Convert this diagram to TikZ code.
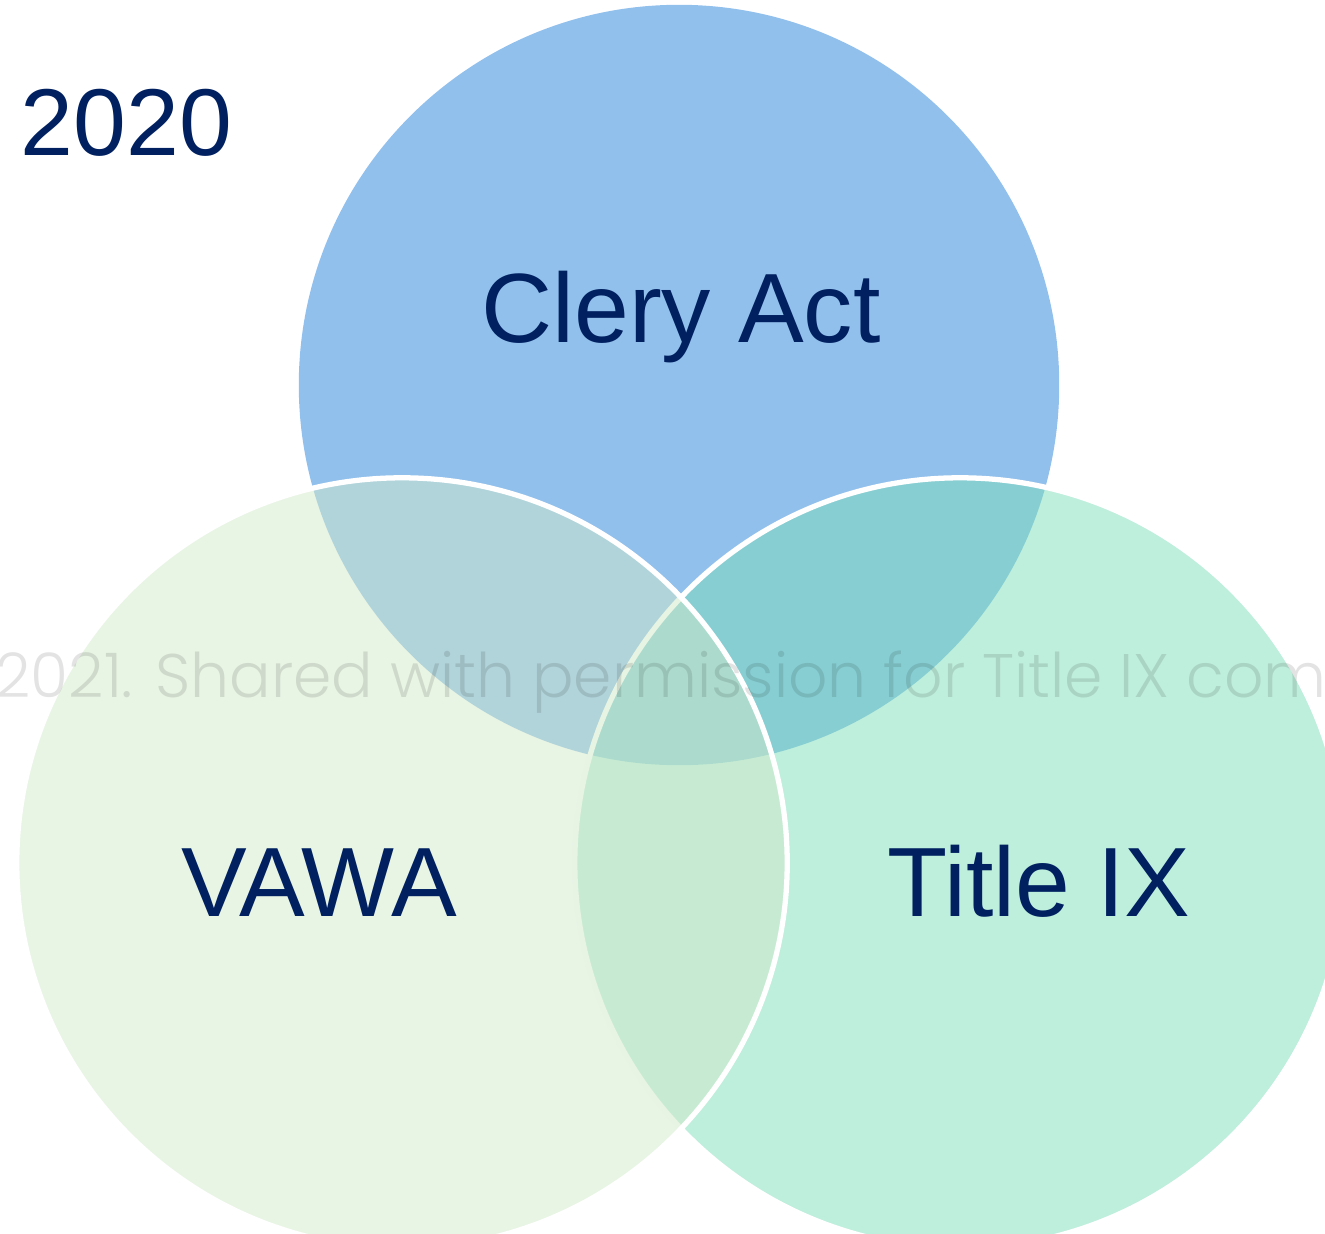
\documentclass[tikz,border=0pt]{standalone}
\usepackage{fontspec}
\setmainfont{Liberation Sans}
\IfFontExistsTF{Poppins Light}{\newfontfamily\markfont{Poppins Light}}{\newfontfamily\markfont{Poppins}}
\definecolor{navy}{HTML}{002060}
\definecolor{clery}{RGB}{146,192,236}
\definecolor{vawa}{RGB}{209,233,201}
\definecolor{titleix}{RGB}{125,221,185}

\tikzset{
    venn circle/.style={
        circle,inner sep=0pt,
        minimum size=7.7cm,
        draw=white,line width=1.5pt,
        fill opacity=.5,draw opacity=1
    },
    venn label/.style={
        text=navy,anchor=base,inner sep=0pt,
        font=\fontsize{28}{34}\selectfont
    },
    watermark/.style={
        text=black,text opacity=.11,anchor=base west,inner sep=0pt,
        font=\markfont\fontsize{17.5}{21}\selectfont
    }
}

\begin{document}
\begin{tikzpicture}[x=0.01cm,y=-0.01cm]
    \useasboundingbox (0,0) rectangle (1325,1233);
    \clip (0,0) rectangle (1325,1233);
    \node[circle,inner sep=0pt,minimum size=7.6cm,fill=clery] (clery) at (679,385) {};
    \foreach \name/\x in {titleix/960,vawa/402}
        \node[venn circle,fill=\name] (\name) at (\x,863) {};
    \node[venn label] (clery label) at (681,342) {Clery Act};
    \node[venn label] (vawa label) at (319,916) {VAWA};
    \node[venn label] (titleix label) at (1039,916) {Title IX};
    \node[venn label,anchor=base west,font=\fontsize{27}{32}\selectfont] (year) at (20,155) {2020};
    \node[watermark] (mark) at (-5,697) {2021. Shared with permission for Title IX com};
\end{tikzpicture}
\end{document}
